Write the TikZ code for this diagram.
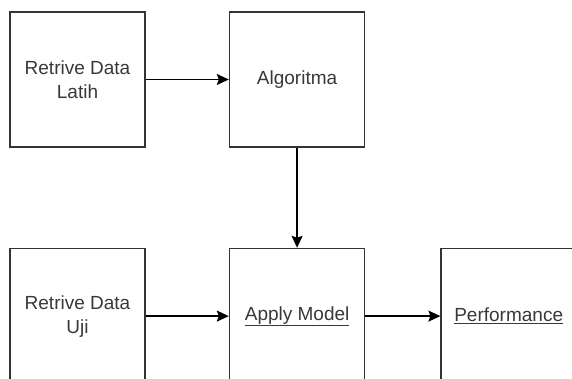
\documentclass[tikz,border=0pt]{standalone}
\usepackage{fontspec}
\setmainfont{Liberation Sans}
\usetikzlibrary{arrows.meta, positioning}
\colorlet{boxline}{black!80}
\colorlet{boxtext}{black!78}

\begin{document}
\begin{tikzpicture}[x=1pt,y=-1pt,
    box/.style={draw=boxline, line width=1.6pt, minimum width=135pt, minimum height=135pt,
      align=center, text=boxtext, inner sep=0pt, font=\fontsize{19}{24}\selectfont},
    link/.style={draw=black, line width=1.5pt, -{Stealth[length=12pt,width=11pt,inset=2pt]}}]
  \useasboundingbox (0,0) rectangle (572,379);
  \clip (0,0) rectangle (572,379);
  % top row
  \node[box] (latih) at (77.5,79.5) {Retrive Data\\Latih};
  \node[box, right=83pt of latih] (algo) {Algoritma};
  % bottom row
  \node[box, below=100pt of algo] (apply) {\underline{Apply Model}};
  \node[box, left=83pt of apply] (uji) {Retrive Data\\Uji};
  \node[box, right=75pt of apply] (perf) {\underline{Performance}};
  % connectors
  \draw[link] (latih) -- (algo);
  \draw[link] (algo) -- (apply);
  \draw[link] (uji) -- (apply);
  \draw[link] (apply) -- (perf);
\end{tikzpicture}
\end{document}
